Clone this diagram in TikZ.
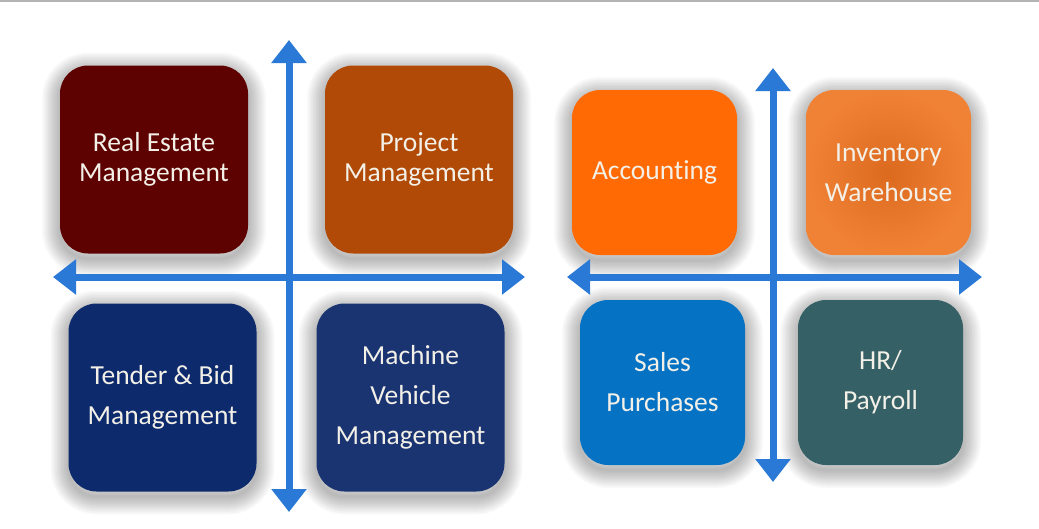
\documentclass[tikz,border=0pt]{standalone}
\usepackage{fontspec}
\setmainfont{Carlito}[Ligatures=NoCommon]
\usepackage{tikz}
\usetikzlibrary{arrows.meta}
\definecolor{estateRed}{HTML}{5E0101}
\definecolor{projectRust}{HTML}{B04A06}
\definecolor{tenderNavy}{HTML}{0C2A6C}
\definecolor{machineNavy}{HTML}{1A3472}
\definecolor{accountOrange}{HTML}{FF6A04}
\definecolor{stockOrange}{HTML}{F08236}
\definecolor{stockDeep}{HTML}{DC6A1E}
\definecolor{salesBlue}{HTML}{0572C4}
\definecolor{payTeal}{HTML}{356066}
\definecolor{axisBlue}{HTML}{2A79D6}
\definecolor{tileText}{HTML}{F3F0E8}
\definecolor{rimGrey}{HTML}{B4B4B4}
\tikzset{
  halo/.style  = {preaction={draw=black, draw opacity=0.022, line width=#1,
                             transform canvas={yshift=-5pt}}},
  haze/.style  = {halo=3pt, halo=6pt, halo=9pt, halo=12pt, halo=15pt, halo=18pt,
                  halo=21pt, halo=24pt, halo=27pt, halo=30pt, halo=33pt, halo=36pt},
  tile/.style  = {draw=none, rounded corners=28pt, align=center, text=tileText,
                  font=\fontsize{27.5}{40}\selectfont, inner sep=0pt, haze},
  big/.style   = {minimum width=188pt, minimum height=188pt},
  small/.style = {minimum width=165pt, minimum height=165pt},
  tight/.style = {font=\fontsize{27.5}{30}\selectfont},
  axis/.style  = {<->, >={Triangle[width=34pt, length=23pt]}, draw=axisBlue, line width=7pt}
}
\begin{document}
\begin{tikzpicture}[x=1pt, y=-1pt]
  \useasboundingbox[fill=white] (0,0) rectangle (1039,528);
  \draw[rimGrey, line width=1.5pt] (0,0.75) -- (1039,0.75);

  \node[tile, big, tight, fill=estateRed]   (estate)  at (154,159.5)   {Real Estate\\Management};
  \node[tile, big, tight, fill=projectRust] (project) at (419,159.5)   {Project\\Management};
  \node[tile, big, fill=tenderNavy]         (tender)  at (162.5,397.5) {Tender \& Bid\\Management};
  \node[tile, big, fill=machineNavy]        (machine) at (410.5,397.5) {Machine\\Vehicle\\Management};

  \node[tile, small, fill=accountOrange]    (account) at (654.5,172.5) {Accounting};
  \node[tile, small, inner color=stockDeep, outer color=stockOrange]
                                            (stock)   at (888.5,172.5) {Inventory\\Warehouse};
  \node[tile, small, fill=salesBlue]        (sales)   at (662.5,382.5) {Sales\\Purchases};
  \node[tile, small, fill=payTeal]          (payroll) at (880.5,382.5) {HR/\\Payroll};

  \coordinate (lTop) at (289,40);   \coordinate (lBot) at (289,512);
  \coordinate (lLft) at (53,277);   \coordinate (lRgt) at (525,277);
  \coordinate (rTop) at (773,68);   \coordinate (rBot) at (773,482);
  \coordinate (rLft) at (567,277);  \coordinate (rRgt) at (982,277);
  \draw[axis] (lTop) -- (lBot); \draw[axis] (lLft) -- (lRgt);
  \draw[axis] (rTop) -- (rBot); \draw[axis] (rLft) -- (rRgt);
\end{tikzpicture}
\end{document}
